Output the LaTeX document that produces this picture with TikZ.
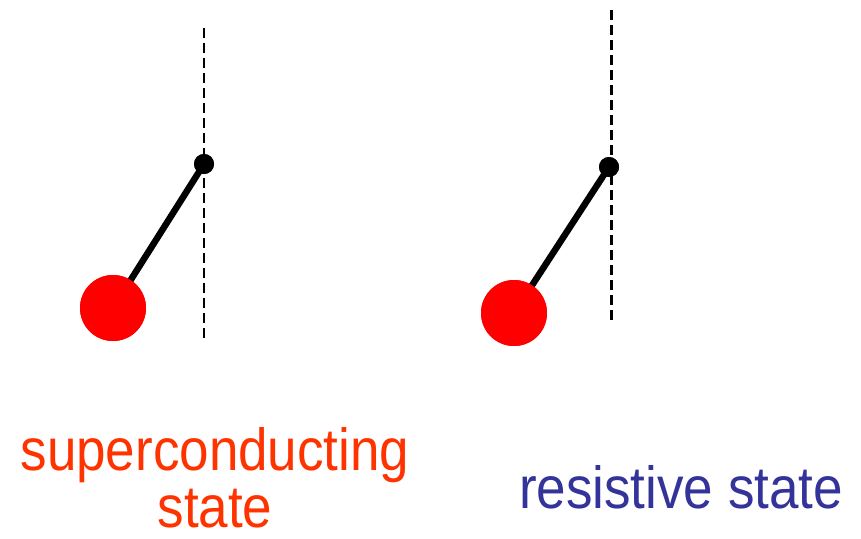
\documentclass[tikz,border=0pt]{standalone}
\usepackage{fontspec}
\setmainfont{Liberation Sans}
\definecolor{scred}{HTML}{FF3300}
\definecolor{resblue}{HTML}{333399}
\newcommand{\tallword}[1]{\scalebox{1}[1.12]{#1}}
\begin{document}
\begin{tikzpicture}[x=1pt,y=-1pt,
  axis/.style={draw=black, line width=2.3pt, dash pattern=on 10pt off 5pt},
  rod/.style={draw=black, line width=6.5pt},
  pivot/.style={circle, fill=black, inner sep=0pt, minimum size=20pt},
  bob/.style={circle, fill=red, inner sep=0pt, minimum size=66pt},
  lbl/.style={font=\fontsize{53}{57}\selectfont, align=center, inner sep=0pt}]
\useasboundingbox (0,0) rectangle (861,538);
% left pendulum
\coordinate (lt) at (204,28);
\coordinate (lb) at (204,339);
\draw[axis] (lt) -- (lb);
\node[pivot] (pl) at (204,164) {};
\node[bob] (bl) at (113,308) {};
\draw[rod] (pl.center) -- (bl.center);
\node[bob] at (bl.center) {};
\node[pivot] at (pl.center) {};
% right pendulum
\coordinate (rt) at (611.5,10);
\coordinate (rb) at (611.5,322);
\draw[axis] (rt) -- (rb);
\node[pivot] (pr) at (609,167) {};
\node[bob] (br) at (514,313) {};
\draw[rod] (pr.center) -- (br.center);
\node[bob] at (br.center) {};
\node[pivot] at (pr.center) {};
% labels
\node[lbl, text=scred, anchor=base, text depth=0pt] (sc) at (215,527) {\tallword{superconducting}\\\tallword{state}};
\node[lbl, text=resblue, anchor=base] (rs) at (681,508) {\tallword{resistive state}};
\end{tikzpicture}
\end{document}
